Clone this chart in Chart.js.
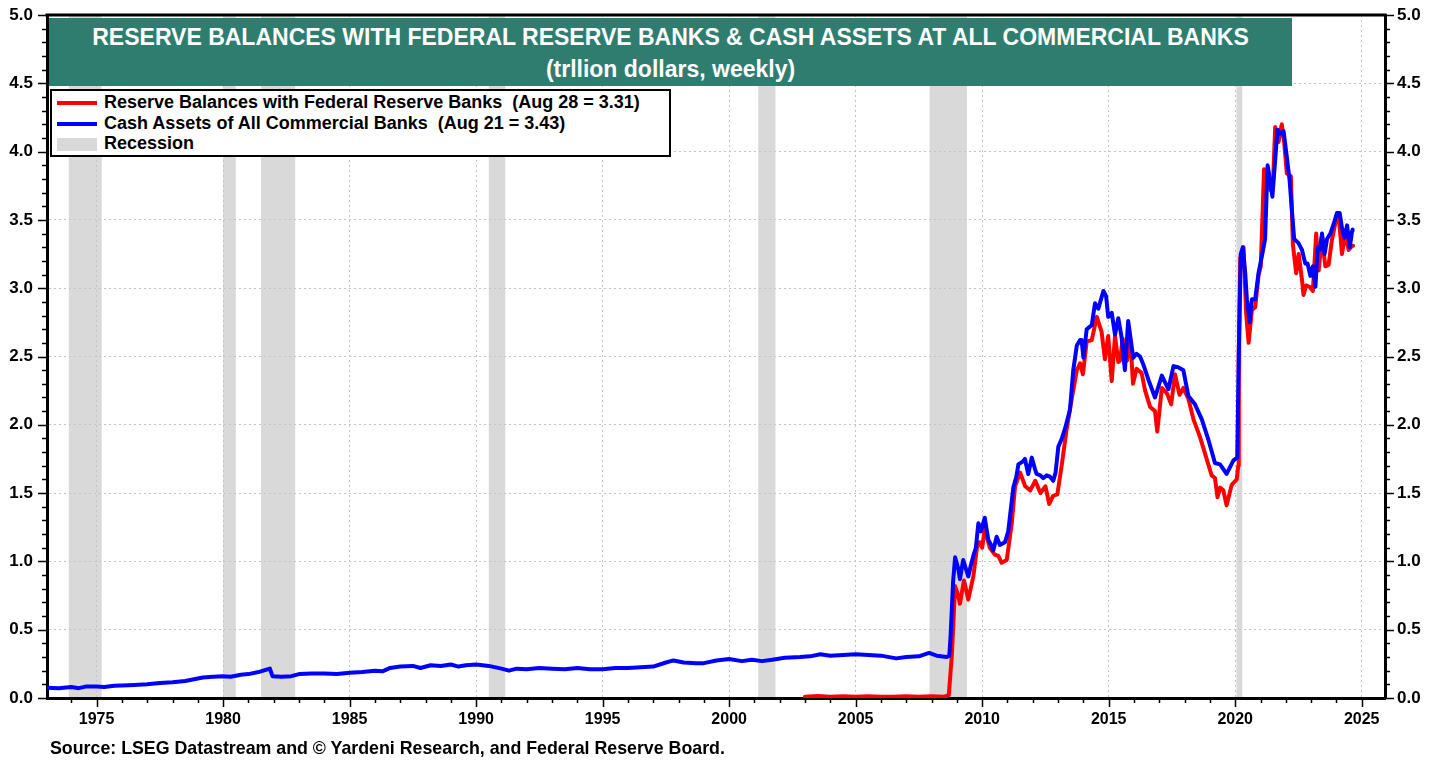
<!DOCTYPE html>
<html lang="en">
<head>
    <meta charset="UTF-8">
    <title>Reserve Balances & Cash Assets</title>
    <script src="https://cdn.jsdelivr.net/npm/chart.js"></script>
    <style>
        body {
            margin: 0;
            background: #fff;
            font-family: Arial, "Liberation Sans", sans-serif;
        }
        #wrap {
            position: relative;
            width: 1441px;
            height: 763px;
        }
        #title-box {
            position: absolute;
            left: 49px;
            top: 18px;
            width: 1243px;
            height: 68px;
            background: #2e7d6f;
            color: #fff;
            font-weight: bold;
            font-size: 23px;
            text-align: center;
            line-height: 32px;
            padding-top: 3px;
            box-sizing: border-box;
        }
        #legend-box {
            position: absolute;
            left: 50px;
            top: 89px;
            width: 621px;
            height: 68px;
            background: #fff;
            border: 2px solid #000;
            box-sizing: border-box;
            font-weight: bold;
            font-size: 18px;
        }
        .row {
            position: absolute;
            left: 5px;
            height: 20px;
            line-height: 20px;
            white-space: pre;
        }
        .swatch {
            display: inline-block;
            width: 40px;
            vertical-align: middle;
            margin-right: 7px;
        }
        #source {
            position: absolute;
            left: 50px;
            top: 738px;
            font-weight: bold;
            font-size: 17.8px;
        }
    </style>
</head>
<body>
<div id="wrap">
    <canvas id="chart"></canvas>
    <div id="title-box">RESERVE BALANCES WITH FEDERAL RESERVE BANKS &amp; CASH ASSETS AT ALL COMMERCIAL BANKS<br>(trllion dollars, weekly)</div>
    <div id="legend-box">
        <div class="row" style="top:1px"><span class="swatch" style="height:4px;background:#ff0000"></span>Reserve Balances with Federal Reserve Banks  (Aug 28 = 3.31)</div>
        <div class="row" style="top:22px"><span class="swatch" style="height:4px;background:#0000ff"></span>Cash Assets of All Commercial Banks  (Aug 21 = 3.43)</div>
        <div class="row" style="top:42px"><span class="swatch" style="height:13px;background:#d9d9d9"></span>Recession</div>
    </div>
    <div id="source">Source: LSEG Datastream and © Yardeni Research, and Federal Reserve Board.</div>
</div>
<script>
// Cash assets of all commercial banks (trillion $), decimal years
const cashDates = [
    1973.0, 1973.5, 1974.0, 1974.3, 1974.6, 1975.0, 1975.3, 1975.7, 1976.0, 1976.5,
    1977.0, 1977.5, 1978.0, 1978.5, 1978.8, 1979.2, 1979.6, 1980.0, 1980.3, 1980.7,
    1981.0, 1981.4, 1981.75, 1981.85, 1981.95, 1982.3, 1982.7, 1983.0, 1983.5, 1984.0,
    1984.5, 1985.0, 1985.5, 1986.0, 1986.3, 1986.6, 1987.0, 1987.5, 1987.8, 1988.2,
    1988.6, 1989.0, 1989.3, 1989.6, 1990.0, 1990.5, 1991.0, 1991.3, 1991.6, 1992.0,
    1992.5, 1993.0, 1993.5, 1994.0, 1994.5, 1995.0, 1995.5, 1996.0, 1996.5, 1997.0,
    1997.5, 1997.8, 1998.2, 1998.7, 1999.0, 1999.5, 2000.0, 2000.5, 2000.9, 2001.3,
    2001.7, 2002.2, 2002.8, 2003.2, 2003.6, 2004.0, 2004.5, 2005.0, 2005.5, 2006.0,
    2006.6, 2007.0, 2007.5, 2007.9, 2008.2, 2008.6, 2008.7,
    2008.75, 2008.85, 2008.93, 2009.05, 2009.12, 2009.25, 2009.35, 2009.45, 2009.55, 2009.65,
    2009.75, 2009.85, 2009.95, 2010.1, 2010.24, 2010.35, 2010.44, 2010.57, 2010.7, 2010.9,
    2011.03, 2011.23, 2011.35, 2011.43, 2011.6, 2011.69, 2011.82, 2011.96, 2012.08, 2012.15,
    2012.3, 2012.41, 2012.55, 2012.68, 2012.81, 2012.9, 2013.01, 2013.15, 2013.27, 2013.47,
    2013.6, 2013.74, 2013.87, 2013.93, 2014.0, 2014.13, 2014.33, 2014.46, 2014.59, 2014.79,
    2014.9, 2014.98, 2015.12, 2015.25, 2015.38, 2015.51, 2015.64, 2015.77, 2015.97, 2016.1,
    2016.24, 2016.37, 2016.57, 2016.83, 2017.1, 2017.36, 2017.56, 2017.76, 2017.95, 2018.15,
    2018.41, 2018.68, 2018.94, 2019.2, 2019.4, 2019.66, 2019.93, 2020.08, 2020.15, 2020.22,
    2020.3, 2020.4, 2020.46, 2020.57, 2020.66, 2020.79, 2020.92, 2021.05, 2021.18, 2021.28,
    2021.38, 2021.47, 2021.58, 2021.67, 2021.78, 2021.91, 2022.04, 2022.15, 2022.24, 2022.33,
    2022.5, 2022.64, 2022.77, 2022.86, 2022.97, 2023.07, 2023.17, 2023.26, 2023.34, 2023.43,
    2023.53, 2023.63, 2023.76, 2023.89, 2024.02, 2024.13, 2024.22, 2024.32, 2024.42, 2024.53,
    2024.62, 2024.64
];
const cashValues = [
    0.075, 0.072, 0.080, 0.072, 0.085, 0.085, 0.080, 0.090, 0.092, 0.095,
    0.100, 0.110, 0.115, 0.125, 0.135, 0.150, 0.155, 0.160, 0.155, 0.170,
    0.175, 0.190, 0.210, 0.215, 0.160, 0.155, 0.160, 0.175, 0.180, 0.180,
    0.175, 0.185, 0.190, 0.200, 0.195, 0.220, 0.230, 0.235, 0.220, 0.240,
    0.235, 0.245, 0.230, 0.240, 0.245, 0.235, 0.215, 0.200, 0.215, 0.210,
    0.220, 0.215, 0.210, 0.220, 0.210, 0.210, 0.220, 0.220, 0.225, 0.230,
    0.260, 0.275, 0.260, 0.255, 0.255, 0.275, 0.285, 0.270, 0.280, 0.270,
    0.280, 0.295, 0.300, 0.305, 0.320, 0.310, 0.315, 0.320, 0.315, 0.310,
    0.290, 0.300, 0.305, 0.330, 0.310, 0.300, 0.310,
    0.45, 0.85, 1.03, 0.95, 0.87, 1.01, 0.95, 0.89, 0.97, 1.04,
    1.10, 1.28, 1.22, 1.32, 1.16, 1.12, 1.08, 1.18, 1.12, 1.14,
    1.22, 1.54, 1.62, 1.71, 1.73, 1.75, 1.64, 1.76, 1.68, 1.64,
    1.63, 1.61, 1.63, 1.62, 1.59, 1.65, 1.84, 1.90, 1.97, 2.11,
    2.40, 2.58, 2.62, 2.62, 2.49, 2.70, 2.73, 2.89, 2.85, 2.98,
    2.94, 2.79, 2.82, 2.66, 2.78, 2.64, 2.40, 2.76, 2.49, 2.52,
    2.50, 2.44, 2.33, 2.20, 2.36, 2.26, 2.43, 2.42, 2.40, 2.21,
    2.15, 2.04, 1.89, 1.72, 1.71, 1.64, 1.74, 1.76, 2.60, 3.25,
    3.30, 3.10, 2.92, 2.75, 2.92, 2.92, 3.11, 3.23, 3.36, 3.90,
    3.79, 3.67, 3.94, 4.16, 4.13, 4.15, 3.96, 3.79, 3.57, 3.36,
    3.33, 3.28, 3.18, 3.18, 3.09, 3.16, 3.01, 3.30, 3.28, 3.40,
    3.25, 3.36, 3.40, 3.47, 3.55, 3.55, 3.44, 3.37, 3.46, 3.30,
    3.42, 3.43
];

// Reserve balances with Federal Reserve Banks (trillion $)
const reserveDates = [
    2003.0, 2003.5, 2004.0, 2004.5, 2005.0, 2005.5, 2006.0, 2006.5, 2007.0, 2007.5,
    2008.0, 2008.5, 2008.68, 2008.8, 2008.93, 2009.05, 2009.12, 2009.28, 2009.38, 2009.45,
    2009.65, 2009.8, 2009.9, 2010.0, 2010.1, 2010.3, 2010.5, 2010.64, 2010.77, 2010.97,
    2011.17, 2011.3, 2011.5, 2011.7, 2011.9, 2012.1, 2012.3, 2012.5, 2012.65, 2012.8,
    2012.97, 2013.14, 2013.34, 2013.54, 2013.74, 2013.87, 2013.98, 2014.13, 2014.33, 2014.53,
    2014.72, 2014.85, 2014.98, 2015.12, 2015.25, 2015.38, 2015.45, 2015.55, 2015.72, 2015.86,
    2015.96, 2016.1, 2016.3, 2016.44, 2016.64, 2016.83, 2016.92, 2017.1, 2017.3, 2017.47,
    2017.62, 2017.8, 2017.95, 2018.15, 2018.35, 2018.61, 2018.87, 2019.07, 2019.2, 2019.3,
    2019.4, 2019.53, 2019.66, 2019.86, 2020.06, 2020.12, 2020.14, 2020.2, 2020.33, 2020.43,
    2020.53, 2020.66, 2020.79, 2020.92, 2021.01, 2021.14, 2021.25, 2021.38, 2021.49, 2021.58,
    2021.71, 2021.84, 2021.93, 2022.04, 2022.2, 2022.28, 2022.41, 2022.51, 2022.64, 2022.7,
    2022.8, 2022.94, 2023.07, 2023.2, 2023.3, 2023.43, 2023.56, 2023.69, 2023.82, 2023.95,
    2024.09, 2024.22, 2024.35, 2024.48, 2024.62, 2024.66
];
const reserveValues = [
    0.010, 0.015, 0.010, 0.012, 0.010, 0.012, 0.010, 0.010, 0.012, 0.010,
    0.012, 0.010, 0.02, 0.31, 0.82, 0.75, 0.69, 0.86, 0.78, 0.72,
    0.89, 1.11, 1.14, 1.10, 1.24, 1.10, 1.05, 1.04, 0.99, 1.01,
    1.28, 1.55, 1.65, 1.55, 1.52, 1.59, 1.50, 1.55, 1.42, 1.48,
    1.49, 1.70, 1.97, 2.19, 2.40, 2.45, 2.37, 2.61, 2.62, 2.79,
    2.68, 2.48, 2.65, 2.32, 2.65, 2.46, 2.47, 2.63, 2.47, 2.62,
    2.30, 2.41, 2.38, 2.25, 2.13, 2.10, 1.95, 2.27, 2.23, 2.15,
    2.37, 2.22, 2.27, 2.19, 2.04, 1.91, 1.75, 1.63, 1.61, 1.47,
    1.54, 1.52, 1.41, 1.56, 1.60, 1.70, 2.50, 3.22, 3.30, 2.82,
    2.60, 2.84, 2.86, 3.09, 3.16, 3.87, 3.82, 3.72, 3.75, 4.18,
    4.07, 4.20, 4.08, 3.84, 3.82, 3.32, 3.11, 3.25, 3.06, 2.95,
    3.02, 3.01, 2.98, 3.40, 3.13, 3.38, 3.16, 3.17, 3.35, 3.47,
    3.53, 3.25, 3.40, 3.28, 3.31, 3.31
];

// US recessions (shaded)
const recessionStarts = [1973.9, 1980.0, 1981.5, 1990.5, 2001.15, 2007.92, 2020.05];
const recessionEnds   = [1975.2, 1980.5, 1982.85, 1991.15, 2001.83, 2009.4, 2020.28];

const xMin = 1973.04;
const xMax = 2025.92;
const yMin = 0;
const yMax = 5;

const axisFont = {family: 'Arial, "Liberation Sans", sans-serif', weight: 'bold'};

// fixed axis box sizes so the plot frame lands where the original has it
function fitY(width) {
    return s => {
        s.width = width;
        s.paddingTop = 0;
        s.paddingBottom = 0;
    };
}

// recession bands, frame top edge and the major/minor tick marks
const framePlugin = {
    id: 'frame',
    beforeDraw(chart) {
        const {ctx, chartArea: a, scales: {x}} = chart;
        ctx.save();
        ctx.fillStyle = '#d9d9d9';
        recessionStarts.forEach((s, i) => {
            const x1 = x.getPixelForValue(s);
            const x2 = x.getPixelForValue(recessionEnds[i]);
            ctx.fillRect(x1, a.top, x2 - x1, a.bottom - a.top);
        });
        ctx.restore();
    },
    afterDraw(chart) {
        const {ctx, chartArea: a, scales: {x, y}} = chart;
        ctx.save();
        ctx.strokeStyle = '#000';
        ctx.lineWidth = 3;
        ctx.beginPath();
        ctx.moveTo(a.left - 1.5, a.top);
        ctx.lineTo(a.right + 1.5, a.top);
        ctx.stroke();

        ctx.lineWidth = 1.5;
        ctx.beginPath();
        for (let yr = Math.ceil(xMin); yr <= Math.floor(xMax); yr++) {
            const px = Math.round(x.getPixelForValue(yr)) + 0.5;
            const len = yr % 5 === 0 ? 9 : 5;
            ctx.moveTo(px, a.bottom);
            ctx.lineTo(px, a.bottom + len);
        }
        for (let k = 0; k <= 50; k++) {
            const py = Math.round(y.getPixelForValue(k / 10)) + 0.5;
            const len = k % 5 === 0 ? 9 : 5;
            ctx.moveTo(a.left, py);
            ctx.lineTo(a.left - len, py);
            ctx.moveTo(a.right, py);
            ctx.lineTo(a.right + len, py);
        }
        ctx.stroke();
        ctx.restore();
    }
};

const ctx = document.getElementById('chart').getContext('2d');
new Chart(ctx, {
    type: 'line',
    data: {
        datasets: [
            {
                label: 'Cash Assets of All Commercial Banks',
                data: cashDates.map((d, i) => ({x: d, y: cashValues[i]})),
                borderColor: '#0000ff',
                backgroundColor: '#0000ff',
                borderWidth: 4
            },
            {
                label: 'Reserve Balances with Federal Reserve Banks',
                data: reserveDates.map((d, i) => ({x: d, y: reserveValues[i]})),
                borderColor: '#ff0000',
                backgroundColor: '#ff0000',
                borderWidth: 4
            }
        ]
    },
    options: {
        responsive: true,
        maintainAspectRatio: false,
        animation: false,
        layout: {padding: {top: 15, left: 0, right: 0, bottom: 0}},
        elements: {
            point: {radius: 0},
            line: {tension: 0, borderJoinStyle: 'round', borderCapStyle: 'round'}
        },
        plugins: {
            legend: {display: false},
            tooltip: {enabled: false}
        },
        scales: {
            x: {
                type: 'linear',
                min: xMin,
                max: xMax,
                afterFit: s => { s.height = 65; s.paddingLeft = 0; s.paddingRight = 0; },
                ticks: {
                    stepSize: 5,
                    includeBounds: false,
                    autoSkip: false,
                    maxRotation: 0,
                    padding: 12,
                    color: '#000',
                    font: {...axisFont, size: 16},
                    callback: v => String(v)
                },
                grid: {color: '#c4c4c4', lineWidth: 1, drawTicks: false},
                border: {display: true, color: '#000', width: 3, dash: [2, 3]}
            },
            y: {
                position: 'left',
                min: yMin,
                max: yMax,
                afterFit: fitY(47),
                ticks: {
                    stepSize: 0.5,
                    padding: 14,
                    color: '#000',
                    font: {...axisFont, size: 17},
                    callback: v => v.toFixed(1)
                },
                grid: {color: '#c4c4c4', lineWidth: 1, drawTicks: false},
                border: {display: true, color: '#000', width: 3, dash: [2, 3]}
            },
            y2: {
                position: 'right',
                min: yMin,
                max: yMax,
                afterFit: fitY(56),
                ticks: {
                    stepSize: 0.5,
                    padding: 12,
                    color: '#000',
                    font: {...axisFont, size: 17},
                    callback: v => v.toFixed(1)
                },
                grid: {drawOnChartArea: false, drawTicks: false},
                border: {display: true, color: '#000', width: 3}
            }
        }
    },
    plugins: [framePlugin]
});
</script>
</body>
</html>
